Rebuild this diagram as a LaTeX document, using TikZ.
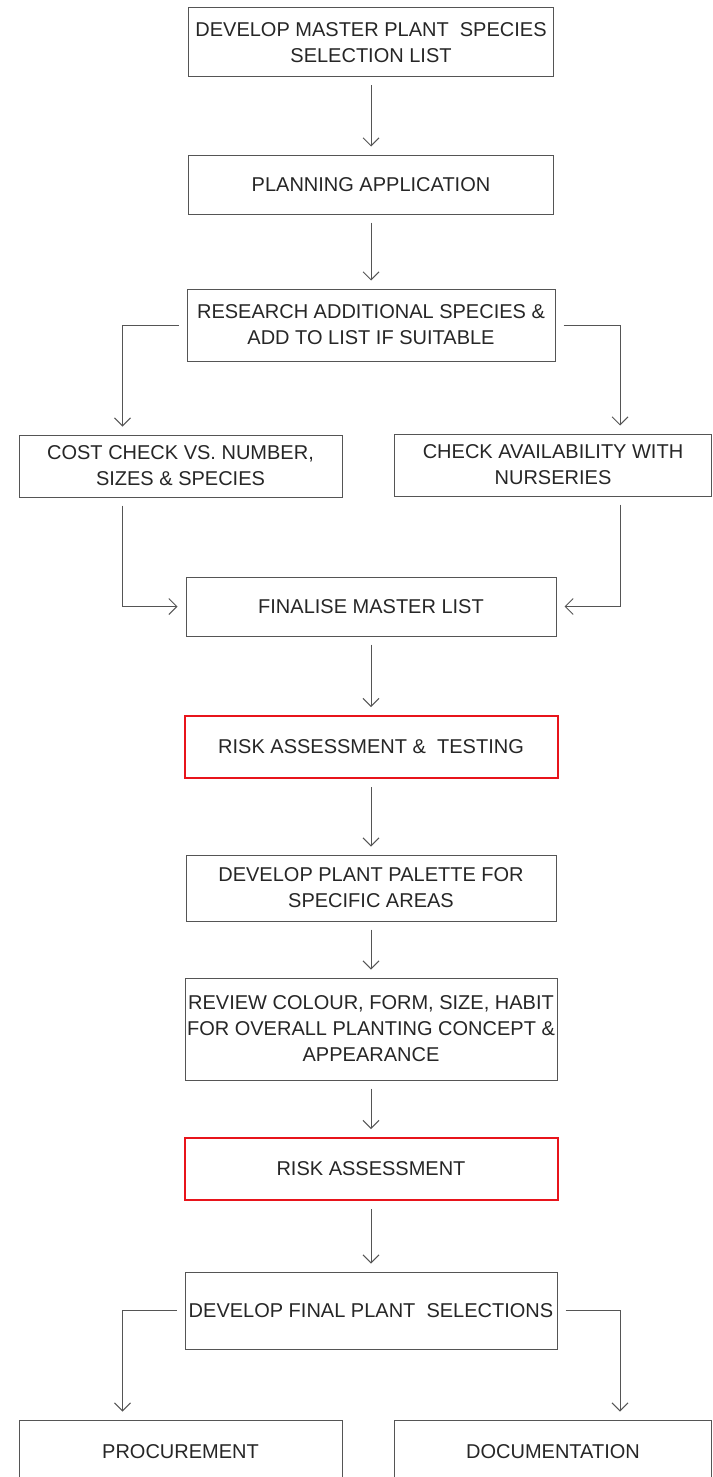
\documentclass[tikz,border=0pt]{standalone}
\usepackage{fontspec}
\setmainfont{Liberation Sans}
\usetikzlibrary{arrows.meta,calc}

\definecolor{linegray}{HTML}{555555}
\definecolor{textgray}{HTML}{262626}
\definecolor{riskred}{HTML}{E8141B}

\begin{document}
\begin{tikzpicture}[x=1pt,y=-1pt,
  box/.style={draw=linegray, line width=1pt, align=center, text=textgray,
    inner sep=0pt, font=\fontsize{20}{26}\selectfont},
  riskbox/.style={box, draw=riskred, line width=2pt},
  arr/.style={draw=linegray, line width=1pt, shorten <=8pt, shorten >=8pt,
    -{Straight Barb[length=8pt,width=16pt]}}]

  \useasboundingbox (0,0) rectangle (712,1477);
  \clip (0,0) rectangle (712,1477);

  % main column
  \node[box, minimum width=365pt, minimum height=69pt] (master) at (371,42.5)
    {DEVELOP MASTER PLANT\ \ SPECIES\\SELECTION LIST};
  \node[box, minimum width=365pt, minimum height=59pt] (plan) at (371,184.5)
    {PLANNING APPLICATION};
  \node[box, minimum width=368pt, minimum height=72pt] (research) at (371,325)
    {RESEARCH ADDITIONAL SPECIES \&\\ADD TO LIST IF SUITABLE};

  % side boxes
  \node[box, minimum width=323pt, minimum height=62pt] (cost) at (180.5,466)
    {COST CHECK VS. NUMBER,\\SIZES \& SPECIES};
  \node[box, minimum width=317pt, minimum height=62pt] (avail) at (553,465)
    {CHECK AVAILABILITY WITH\\NURSERIES};

  \node[box, minimum width=370pt, minimum height=59pt] (final) at (371,606.5)
    {FINALISE MASTER LIST};
  \node[riskbox, minimum width=373pt, minimum height=62pt] (risktest) at (371,747)
    {RISK ASSESSMENT \&\ \ TESTING};
  \node[box, minimum width=370pt, minimum height=66pt] (palette) at (371,888)
    {DEVELOP PLANT PALETTE FOR\\SPECIFIC AREAS};
  \node[box, minimum width=372pt, minimum height=102pt] (review) at (371,1029)
    {REVIEW COLOUR, FORM, SIZE, HABIT\\FOR OVERALL PLANTING CONCEPT \&\\APPEARANCE};
  \node[riskbox, minimum width=373pt, minimum height=62pt] (risk) at (371,1169)
    {RISK ASSESSMENT};
  \node[box, minimum width=372pt, minimum height=77pt] (select) at (371,1310.5)
    {DEVELOP FINAL PLANT\ \ SELECTIONS};

  % bottom boxes (run off the page)
  \node[box, minimum width=323pt, minimum height=64pt] (procure) at (180.5,1452)
    {PROCUREMENT};
  \node[box, minimum width=317pt, minimum height=64pt] (docs) at (553,1452)
    {DOCUMENTATION};

  % straight arrows
  \draw[arr] (master) -- (plan);
  \draw[arr] (plan) -- (research);
  \draw[arr] (final) -- (risktest);
  \draw[arr] (risktest) -- (palette);
  \draw[arr] (palette) -- (review);
  \draw[arr] (review) -- (risk);
  \draw[arr] (risk) -- (select);

  % branches
  \draw[arr] (research.west) -| ($(cost.north west)+(104,0)$);
  \draw[arr] (research.east) -| ($(avail.north west)+(226,0)$);
  \draw[arr] ($(cost.south west)+(104,0)$) |- (final.west);
  \draw[arr] ($(avail.south west)+(226,0)$) |- (final.east);
  \draw[arr] (select.west) -| ($(procure.north west)+(104,0)$);
  \draw[arr] (select.east) -| ($(docs.north west)+(226,0)$);

\end{tikzpicture}
\end{document}
